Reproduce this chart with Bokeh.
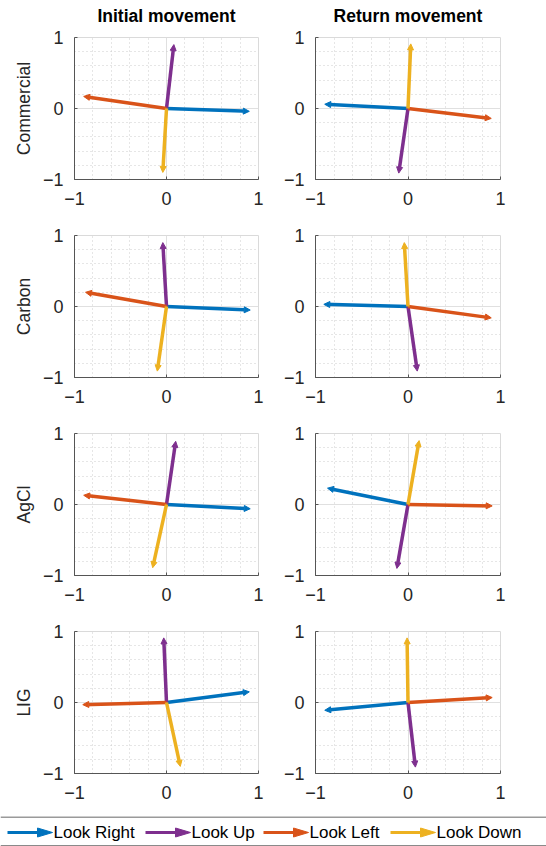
from bokeh.plotting import figure
from bokeh.layouts import column, row
from bokeh.models import Range1d, FixedTicker, Arrow, NormalHead
from bokeh.core.properties import value
from bokeh.embed import file_html
from bokeh.resources import INLINE

# Gaze directions and their colours (legend order)
directions = ["Look Right", "Look Up", "Look Left", "Look Down"]
colors = ["#0072BD", "#7E2F8E", "#D95319", "#EDB120"]

electrodes = ["Commercial", "Carbon", "AgCl", "LIG"]
phases = ["Initial movement", "Return movement"]

# Normalised vector end points (x, y) per direction: Right, Up, Left, Down
commercial_initial_x = [0.90, 0.08, -0.90, -0.04]
commercial_initial_y = [-0.04, 0.90, 0.17, -0.90]
commercial_return_x = [-0.90, -0.10, 0.90, 0.03]
commercial_return_y = [0.06, -0.91, -0.14, 0.91]

carbon_initial_x = [0.91, -0.04, -0.88, -0.10]
carbon_initial_y = [-0.05, 0.90, 0.20, -0.91]
carbon_return_x = [-0.91, 0.10, 0.90, -0.04]
carbon_return_y = [0.03, -0.91, -0.16, 0.90]

agcl_initial_x = [0.91, 0.10, -0.90, -0.15]
agcl_initial_y = [-0.06, 0.89, 0.13, -0.89]
agcl_return_x = [-0.87, -0.12, 0.91, 0.12]
agcl_return_y = [0.23, -0.90, -0.02, 0.90]

lig_initial_x = [0.90, -0.03, -0.91, 0.15]
lig_initial_y = [0.15, 0.91, -0.03, -0.90]
lig_return_x = [-0.90, 0.08, 0.91, -0.01]
lig_return_y = [-0.11, -0.91, 0.07, 0.91]

vectors = [
    [(commercial_initial_x, commercial_initial_y), (commercial_return_x, commercial_return_y)],
    [(carbon_initial_x, carbon_initial_y), (carbon_return_x, carbon_return_y)],
    [(agcl_initial_x, agcl_initial_y), (agcl_return_x, agcl_return_y)],
    [(lig_initial_x, lig_initial_y), (lig_return_x, lig_return_y)],
]

major_ticks = [-1, 0, 1]
minor_ticks = [-0.8, -0.6, -0.4, -0.2, 0.2, 0.4, 0.6, 0.8]

FONT = "Liberation Sans"
TEXT = "#262626"
AXIS = "#555555"

# panel geometry (pixels)
COL_W = 273
BORDER_L = [74, 42]
BORDER_R = [15, 46]
FRAME_H = 142
HEADER_H = 26


def panel(xs, ys, r, c):
    top = 37 - HEADER_H if r == 0 else 20
    p = figure(width=COL_W, height=top + FRAME_H + 36,
               x_range=Range1d(-1, 1), y_range=Range1d(-1, 1),
               output_backend="svg", toolbar_location=None, tools="",
               min_border_left=BORDER_L[c], min_border_right=BORDER_R[c],
               min_border_top=top, min_border_bottom=36)
    p.outline_line_color = "#dadada"
    p.background_fill_color = "white"
    p.border_fill_color = "white"

    for ax in (p.xaxis[0], p.yaxis[0]):
        ax.ticker = FixedTicker(ticks=major_ticks, minor_ticks=minor_ticks)
        ax.axis_line_color = AXIS
        ax.major_tick_line_color = AXIS
        ax.major_tick_in = 3
        ax.major_tick_out = 0
        ax.minor_tick_line_color = None
        ax.major_label_text_font = FONT
        ax.major_label_text_font_size = "18px"
        ax.major_label_text_color = TEXT
    p.xaxis.major_label_standoff = 8
    p.yaxis.major_label_standoff = 7
    if c == 0:
        p.yaxis.axis_label = electrodes[r]
        p.yaxis.axis_label_text_font = FONT
        p.yaxis.axis_label_text_font_size = "17.5px"
        p.yaxis.axis_label_text_font_style = "normal"
        p.yaxis.axis_label_text_color = TEXT
        p.yaxis.axis_label_standoff = 6

    for g in (p.xgrid[0], p.ygrid[0]):
        g.grid_line_color = "#e0e0e0"
        g.grid_line_width = 1
        g.minor_grid_line_color = "#cdcdcd"
        g.minor_grid_line_dash = "1 3"
        g.minor_grid_line_width = 1

    for i, col in enumerate(colors):
        head = NormalHead(size=6, fill_color=col, line_color=col, line_width=1)
        p.add_layout(Arrow(end=head, x_start=0, y_start=0,
                           x_end=xs[i], y_end=ys[i],
                           line_color=col, line_width=3.5))
    return p


def blank(width, height):
    f = figure(width=width, height=height, x_range=Range1d(0, width), y_range=Range1d(0, height),
               output_backend="svg", toolbar_location=None, tools="",
               min_border=0, min_border_left=0, min_border_right=0,
               min_border_top=0, min_border_bottom=0)
    f.axis.visible = False
    f.grid.visible = False
    f.outline_line_color = None
    return f


# Column headings, centred over each column's axes box
header = blank(2 * COL_W, HEADER_H)
centers = [c * COL_W + BORDER_L[c] + (COL_W - BORDER_L[c] - BORDER_R[c]) / 2 for c in range(2)]
header.text(x=centers, y=[HEADER_H - 15.5] * 2, text=phases, text_font=value(FONT),
            text_font_size="17.5px", text_font_style="bold", text_color="black",
            text_align="center", text_baseline="middle", text_line_height=1.0)

rows = []
for r in range(4):
    figs = [panel(vectors[r][c][0], vectors[r][c][1], r, c) for c in range(2)]
    rows.append(row(*figs, spacing=0))

# Legend strip below the grid of panels (coordinates in pixels)
leg = blank(2 * COL_W, 37)
leg.segment(x0=[0], y0=[29.3], x1=[546], y1=[29.3], line_color="#9a9a9a", line_width=1.5)
leg.segment(x0=[0], y0=[1], x1=[546], y1=[1], line_color="#8a8a8a", line_width=1)

legend_x = [7, 145, 263, 390]
arrow_len = 45
head_len, head_half = 15, 4.5
yc = 14
for i, col in enumerate(colors):
    x0 = legend_x[i]
    tip = x0 + arrow_len
    leg.segment(x0=[x0], y0=[yc], x1=[tip - head_len + 1], y1=[yc],
                line_color=col, line_width=3)
    leg.patch(x=[tip, tip - head_len, tip - head_len], y=[yc, yc + head_half, yc - head_half],
              fill_color=col, line_color=col, line_width=1)
    leg.text(x=[tip + 1], y=[yc], text=[directions[i]],
             text_font=value(FONT), text_font_size="17px",
             text_color="black", text_baseline="middle", text_align="left")

layout = column(header, *rows, leg, spacing=0)
open("out.html", "w").write(file_html(layout, INLINE))
